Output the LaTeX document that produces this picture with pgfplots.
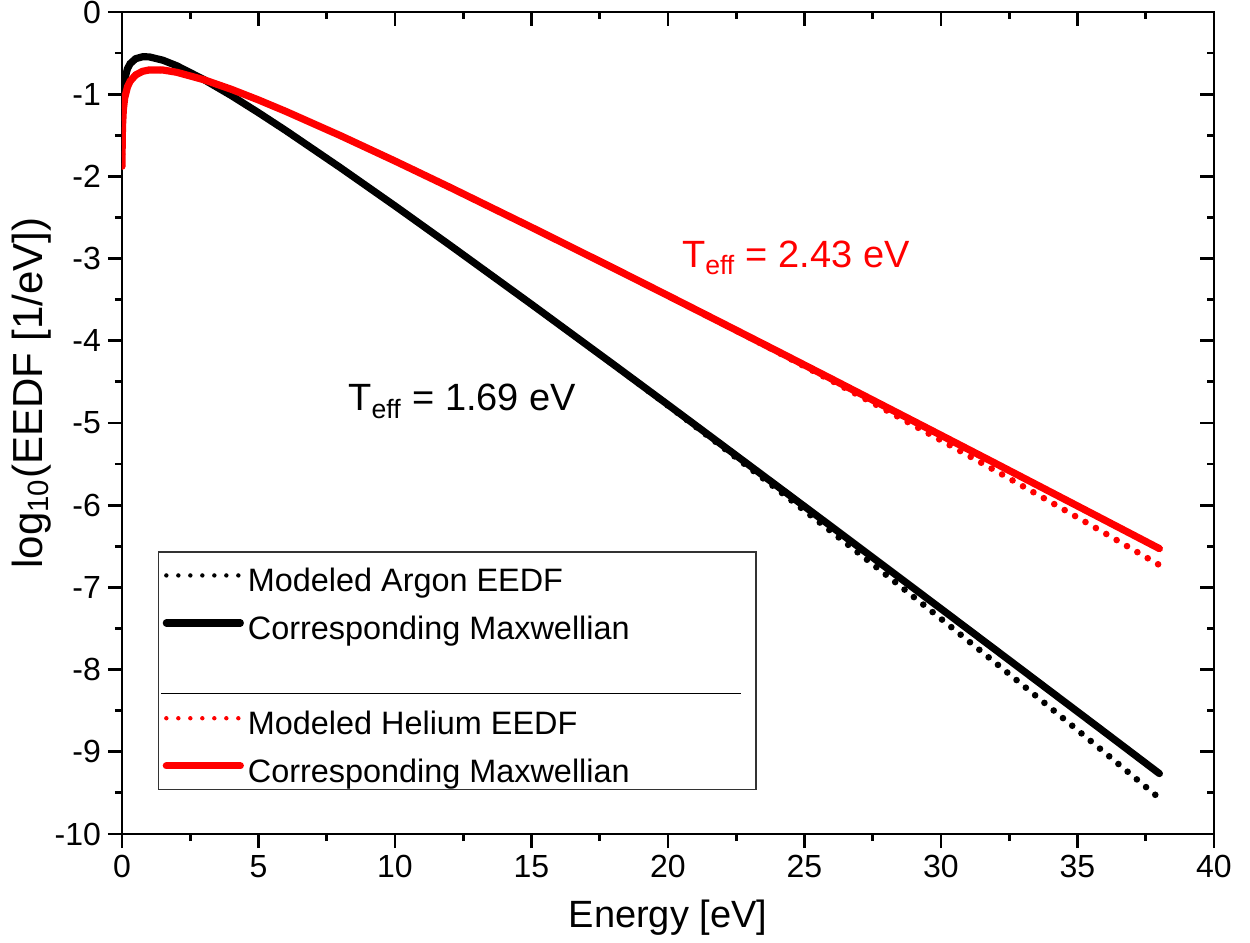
\documentclass[border=0pt]{standalone}
\usepackage{fontspec}
\setmainfont{Liberation Sans}
\usepackage{pgfplots}
\pgfplotsset{compat=1.18}
\newcommand\ls{\rule[-6pt]{0pt}{24pt}}
\newcommand\lsb{\rule[-14pt]{0pt}{32pt}}
\begin{document}
\begin{tikzpicture}
\pgfplotsset{
  common/.style={
    scale only axis, width=546pt, height=411pt,
    xmin=0,xmax=40,ymin=-10,ymax=0,
    xtick={0,5,...,40}, ytick={-10,-9,...,0},
    minor x tick num=1, minor y tick num=1,
    major tick length=7pt, minor tick length=3.5pt,
    axis line style={line width=1.4pt},
    tick style={line width=1.4pt, black},
    at={(0,0)}, anchor=south west,
  }
}
\begin{axis}[common, tick pos=right, tick align=inside, xticklabels={}, yticklabels={}]
\end{axis}
\begin{axis}[common, tick pos=left, tick align=outside,
  xticklabels={0,5,10,15,20,25,30,35,40},
  yticklabels={-10,-9,-8,-7,-6,-5,-4,-3,-2,-1,0},
  ticklabel style={font=\fontsize{16}{19}\selectfont},
  xlabel={Energy [eV]}, ylabel={log\textsubscript{10}(EEDF [1/eV])},
  xlabel style={font=\fontsize{19}{23}\selectfont, at={(axis description cs:0.5,-0.102)}, anchor=center},
  ylabel style={font=\fontsize{21}{25}\selectfont, at={(axis description cs:-0.083,0.5365)}, anchor=center},
  legend style={at={(0.033,0.344)}, anchor=north west, draw=black!80, line width=0.7pt,
    font=\fontsize{16.2}{20}\selectfont, inner xsep=1pt, inner ysep=2pt,
    row sep=4.3pt, column sep=0pt, nodes={inner sep=0pt}},
  legend cell align=left,
  legend image code/.code={\draw[#1] (1pt,0pt) -- (38pt,0pt); \path (0pt,0pt) (40pt,0pt);},
]
% Argon modeled EEDF
\addplot[black, line width=3.3pt, dash pattern=on 0pt off 6pt, line cap=round,
  legend image post style={line width=2.2pt}] coordinates {
(0.002,-1.639) (0.005,-1.441) (0.01,-1.292) (0.02,-1.144) (0.05,-0.953) (0.1,-0.815)
(0.2,-0.690) (0.3,-0.628) (0.5,-0.568) (0.75,-0.545) (1,-0.546) (1.5,-0.587) (2,-0.653)
(3,-0.822) (4,-1.016) (5,-1.225) (6,-1.442) (8,-1.894) (10,-2.359) (12,-2.834)
(15,-3.556) (16,-3.799) (18,-4.290) (20,-4.788) (22,-5.294) (24,-5.806) (26,-6.325)
(28,-6.850) (30,-7.382) (32,-7.919) (34,-8.462) (36,-9.010) (38,-9.565)};
\addlegendentry{\ls Modeled Argon EEDF}
% Argon Maxwellian
\addplot[black, line width=3.6pt, line cap=round] coordinates {
(0.002,-1.639) (0.005,-1.441) (0.01,-1.292) (0.02,-1.144) (0.05,-0.953) (0.1,-0.815)
(0.2,-0.690) (0.3,-0.628) (0.5,-0.568) (0.75,-0.545) (1,-0.546) (1.5,-0.587) (2,-0.653)
(3,-0.822) (4,-1.016) (5,-1.225) (6,-1.442) (8,-1.894) (10,-2.359) (12,-2.834)
(15,-3.556) (18,-4.287) (20,-4.778) (22,-5.272) (24,-5.767) (26,-6.263) (28,-6.761)
(30,-7.260) (32,-7.760) (34,-8.261) (36,-8.762) (38,-9.265)};
\addlegendentry{\ls Corresponding Maxwellian}
\addlegendimage{empty legend}
\addlegendentry{\ls\makebox[253pt][l]{\hspace*{-43.5pt}\rule[-3.5pt]{290pt}{0.75pt}}}
% Helium modeled EEDF
\addplot[red, line width=3.3pt, dash pattern=on 0pt off 6pt, line cap=round,
  legend image post style={line width=2.2pt}] coordinates {
(0.002,-1.876) (0.005,-1.677) (0.01,-1.528) (0.02,-1.379) (0.05,-1.185) (0.1,-1.044)
(0.2,-0.911) (0.3,-0.841) (0.5,-0.766) (0.75,-0.722) (1,-0.705) (1.5,-0.706) (2,-0.733)
(3,-0.824) (4,-0.940) (5,-1.070) (6,-1.209) (8,-1.504) (10,-1.813) (12,-2.131)
(15,-2.619) (18,-3.115) (20,-3.450) (22,-3.790) (24,-4.135) (26,-4.487) (28,-4.846)
(30,-5.211) (32,-5.581) (34,-5.958) (36,-6.340) (38,-6.728)};
\addlegendentry{\ls Modeled Helium EEDF}
% Helium Maxwellian
\addplot[red, line width=3.6pt, line cap=round] coordinates {
(0.002,-1.876) (0.005,-1.677) (0.01,-1.528) (0.02,-1.379) (0.05,-1.185) (0.1,-1.044)
(0.2,-0.911) (0.3,-0.841) (0.5,-0.766) (0.75,-0.722) (1,-0.705) (1.5,-0.706) (2,-0.733)
(3,-0.824) (4,-0.940) (5,-1.070) (6,-1.209) (8,-1.504) (10,-1.813) (12,-2.131)
(15,-2.619) (18,-3.115) (20,-3.450) (22,-3.787) (24,-4.125) (26,-4.465) (28,-4.807)
(30,-5.149) (32,-5.492) (34,-5.837) (36,-6.182) (38,-6.528)};
\addlegendentry{\lsb Corresponding Maxwellian}
\node[red, anchor=base west, inner sep=0pt, font=\fontsize{19}{23}\selectfont]
  at (axis cs:20.5,-3.107) {T\textsubscript{eff} = 2.43 eV};
\node[black, anchor=base west, inner sep=0pt, font=\fontsize{19}{23}\selectfont]
  at (axis cs:8.28,-4.854) {T\textsubscript{eff} = 1.69 eV};
\end{axis}
\pgfresetboundingbox
\useasboundingbox (-61pt,-54.5pt) rectangle (564pt,417pt);
\end{tikzpicture}
\end{document}
